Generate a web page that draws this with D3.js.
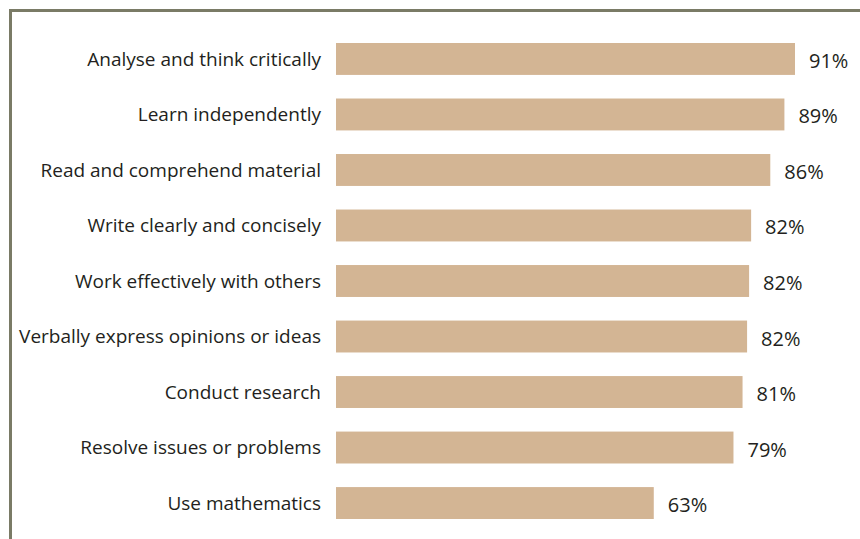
<!DOCTYPE html>
<html>
<head>
<meta charset="utf-8">
<script src="https://cdn.jsdelivr.net/npm/d3@7"></script>
<style>
  body { margin: 0; background: #fff; }
  text { font-family: "Open Sans", "Noto Sans", sans-serif; fill: #231f20; }
</style>
</head>
<body>
<div id="chart"></div>
<script>
var skills = ["Analyse and think critically", "Learn independently", "Read and comprehend material",
  "Write clearly and concisely", "Work effectively with others", "Verbally express opinions or ideas",
  "Conduct research", "Resolve issues or problems", "Use mathematics"];
var shares = [91, 88.9, 86.1, 82.3, 81.9, 81.5, 80.6, 78.8, 63];

var width = 860, height = 539;

var svg = d3.select("#chart").append("svg")
  .attr("width", width)
  .attr("height", height);

// frame, only the top and left edges fall inside the picture
svg.append("rect")
  .attr("x", 10.5).attr("y", 10.5)
  .attr("width", 900).attr("height", 600)
  .attr("fill", "none")
  .attr("stroke", "#7a7b66")
  .attr("stroke-width", 3);

var x = d3.scaleLinear().domain([0, 100]).range([336, 840.4]);
var y = d3.scaleBand().domain(skills).range([43, 519]).paddingInner(0.425).paddingOuter(0);

var data = skills.map(function(s, i) { return {skill: s, v: shares[i]}; });

svg.selectAll(".bar")
  .data(data)
  .enter().append("rect")
    .attr("class", "bar")
    .attr("x", x(0))
    .attr("y", function(d) { return y(d.skill); })
    .attr("width", function(d) { return x(d.v) - x(0); })
    .attr("height", y.bandwidth())
    .attr("fill", "#d3b594");

svg.selectAll(".name")
  .data(data)
  .enter().append("text")
    .attr("class", "name")
    .attr("x", 321)
    .attr("y", function(d) { return y(d.skill) + y.bandwidth() / 2; })
    .attr("dy", "0.35em")
    .attr("text-anchor", "end")
    .style("font-size", "19px")
    .text(function(d) { return d.skill; });

svg.selectAll(".val")
  .data(data)
  .enter().append("text")
    .attr("class", "val")
    .attr("x", function(d) { return x(d.v) + 14; })
    .attr("y", function(d) { return y(d.skill) + y.bandwidth() / 2 + 2; })
    .attr("dy", "0.35em")
    .style("font-size", "20px")
    .text(function(d) { return Math.round(d.v) + "%"; });
</script>
</body>
</html>
